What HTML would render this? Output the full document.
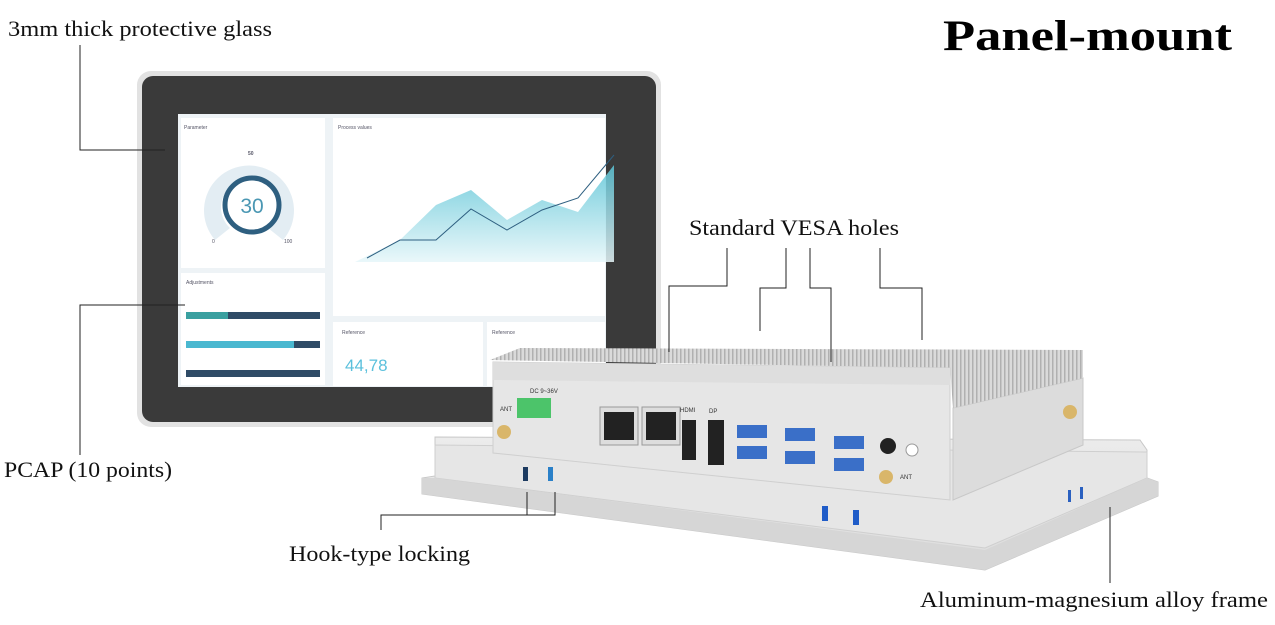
<!DOCTYPE html>
<html><head><meta charset="utf-8"><style>
body{margin:0;background:#fff;width:1275px;height:625px;overflow:hidden;font-family:"Liberation Serif",serif}
svg{position:absolute;left:0;top:0}
</style></head><body>
<svg width="1275" height="625" viewBox="0 0 1275 625">
<defs>
<linearGradient id="base" x1="0" y1="0" x2="0" y2="1"><stop offset="0" stop-color="#ececec"/><stop offset="1" stop-color="#dcdcdc"/></linearGradient>
<linearGradient id="area" x1="0" y1="0" x2="0" y2="1"><stop offset="0" stop-color="#5bc4d6"/><stop offset="1" stop-color="#e6f6f9"/></linearGradient>
<pattern id="fins" width="4" height="10" patternUnits="userSpaceOnUse"><rect width="4" height="10" fill="#dadada"/><rect width="1.5" height="10" fill="#b0b0b0"/></pattern>
</defs>
<rect x="137" y="71" width="524" height="356" rx="14" fill="#e2e2e2"/>
<rect x="142" y="76" width="514" height="346" rx="11" fill="#3a3a3a"/>
<rect x="178" y="114" width="428" height="273" fill="#eef3f6"/>
<rect x="181" y="118" width="144" height="150" fill="#fff"/>
<rect x="333" y="118" width="272" height="198" fill="#fff"/>
<rect x="181" y="273" width="144" height="112" fill="#fff"/>
<rect x="333" y="322" width="150" height="64" fill="#fff"/>
<rect x="487" y="322" width="118" height="64" fill="#fff"/>
<path d="M215 240 A45 45 0 1 1 283 240 L268 228 A28 28 0 1 0 230 228Z" fill="#e3edf3"/>
<circle cx="252" cy="205" r="27" fill="#fff" stroke="#2e5f80" stroke-width="5"/>
<text x="252" y="213" font-family="Liberation Sans,sans-serif" font-size="21" fill="#4a97b3" text-anchor="middle">30</text>
<g font-family="Liberation Sans,sans-serif" font-size="5" fill="#556">
<text x="184" y="129">Parameter</text><text x="338" y="129">Process values</text><text x="186" y="284">Adjustments</text>
<text x="248" y="155" font-weight="bold">50</text><text x="212" y="243">0</text><text x="284" y="243">100</text>
<text x="342" y="334">Reference</text><text x="492" y="334">Reference</text></g>
<path d="M355 262 L400 240 L436 205 L471 190 L507 220 L542 200 L578 212 L614 165 L614 262Z" fill="url(#area)" opacity=".85"/>
<polyline points="367,258 400,240 436,240 471,209 507,230 542,210 578,198 614,155" fill="none" stroke="#2e5f80" stroke-width="1"/>
<rect x="186" y="312" width="134" height="7" fill="#2f4b66"/><rect x="186" y="312" width="42" height="7" fill="#3aa0a0"/>
<rect x="186" y="341" width="134" height="7" fill="#2f4b66"/><rect x="186" y="341" width="108" height="7" fill="#4ab8d0"/>
<rect x="186" y="370" width="134" height="7" fill="#2f4b66"/>
<text x="345" y="371" font-family="Liberation Sans,sans-serif" font-size="17" fill="#5bc0dc">44,78</text>
<polygon points="435,437 1140,440 1147,450 1147,478 1158,482 1158,496 985,570 422,494 422,478 435,476" fill="url(#base)" stroke="#c8c8c8"/>
<polygon points="435,445 1147,452 1147,478 985,548 435,478" fill="#e6e6e6" stroke="#cfcfcf"/>
<polygon points="422,478 435,478 985,550 1147,478 1158,482 1158,496 985,570 422,494" fill="#d6d6d6"/>
<rect x="523" y="467" width="5" height="14" fill="#1c3a60"/><rect x="548" y="467" width="5" height="14" fill="#2a80c8"/>
<rect x="822" y="506" width="6" height="15" fill="#1f5cc8"/><rect x="853" y="510" width="6" height="15" fill="#1f5cc8"/>
<rect x="1068" y="490" width="3" height="12" fill="#2a60c0"/><rect x="1080" y="487" width="3" height="12" fill="#2a60c0"/>
<polygon points="953,408 1083,378 1083,445 953,500" fill="#dcdcdc" stroke="#c8c8c8"/>
<polygon points="490,360 520,348 1083,350 1083,378 953,408 950,368" fill="url(#fins)"/>
<polygon points="493,362 950,368 950,500 493,453" fill="#e6e6e6" stroke="#cfcfcf"/>
<polygon points="493,362 950,368 950,385 493,380" fill="#dedede"/>
<rect x="517" y="398" width="34" height="20" fill="#4cc46a"/>
<rect x="600" y="407" width="38" height="38" fill="#ddd" stroke="#999"/><rect x="604" y="412" width="30" height="28" fill="#222"/>
<rect x="642" y="407" width="38" height="38" fill="#ddd" stroke="#999"/><rect x="646" y="412" width="30" height="28" fill="#222"/>
<rect x="682" y="420" width="14" height="40" fill="#222"/>
<rect x="708" y="420" width="16" height="45" fill="#222"/>
<g fill="#3a6fc8"><rect x="737" y="425" width="30" height="13"/><rect x="737" y="446" width="30" height="13"/>
<rect x="785" y="428" width="30" height="13"/><rect x="785" y="451" width="30" height="13"/>
<rect x="834" y="436" width="30" height="13"/><rect x="834" y="458" width="30" height="13"/></g>
<circle cx="888" cy="446" r="8" fill="#222"/><circle cx="912" cy="450" r="6" fill="#fff" stroke="#999"/>
<circle cx="504" cy="432" r="7" fill="#d9b66a"/><circle cx="886" cy="477" r="7" fill="#d9b66a"/><circle cx="1070" cy="412" r="7" fill="#d9b66a"/>
<g font-family="Liberation Sans,sans-serif" font-size="6" fill="#333"><text x="530" y="393">DC 9~36V</text><text x="500" y="411">ANT</text><text x="680" y="412">HDMI</text><text x="709" y="413">DP</text><text x="900" y="479">ANT</text></g>
<g fill="none" stroke="#222" stroke-width="1">
<polyline points="80,45 80,150 165,150"/>
<polyline points="80,455 80,305 185,305"/>
<polyline points="381,530 381,515 555,515 555,492"/><line x1="527" y1="515" x2="527" y2="492"/>
<polyline points="727,248 727,286 669,286 669,352"/>
<polyline points="786,248 786,288 760,288 760,331"/>
<polyline points="810,248 810,288 831,288 831,362"/>
<polyline points="880,248 880,288 922,288 922,340"/>
<line x1="1110" y1="507" x2="1110" y2="583"/>
</g>
<g font-size="22" fill="#111">
<text x="8" y="36" textLength="264" lengthAdjust="spacingAndGlyphs">3mm thick protective glass</text>
<text x="4" y="477" textLength="168" lengthAdjust="spacingAndGlyphs">PCAP (10 points)</text>
<text x="289" y="561" textLength="181" lengthAdjust="spacingAndGlyphs">Hook-type locking</text>
<text x="689" y="235" textLength="210" lengthAdjust="spacingAndGlyphs">Standard VESA holes</text>
<text x="920" y="607" textLength="348" lengthAdjust="spacingAndGlyphs">Aluminum-magnesium alloy frame</text>
</g>
<text x="943" y="50" font-size="43" font-weight="bold" fill="#000" textLength="289" lengthAdjust="spacingAndGlyphs">Panel-mount</text>
</svg>
</body></html>
